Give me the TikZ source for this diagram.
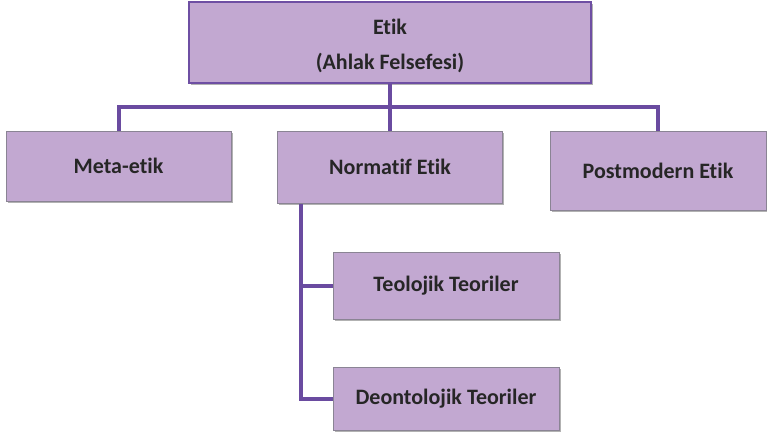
\documentclass[tikz,border=0pt]{standalone}
\usepackage{fontspec}
\setmainfont{Carlito}[Ligatures=NoCommon]
\usetikzlibrary{shadows}

\definecolor{boxfill}{HTML}{C2A8D1}
\definecolor{boxedge}{HTML}{8A8494}
\definecolor{topedge}{HTML}{6E4FA3}
\definecolor{linkpurple}{HTML}{6A4BA0}
\definecolor{textgrey}{HTML}{262626}

\tikzset{
  box/.style={draw=boxedge, line width=1pt, fill=boxfill, text=textgrey,
    font=\fontsize{22}{26}\selectfont\bfseries, inner sep=0pt,
    drop shadow={shadow xshift=1.5pt, shadow yshift=-2pt, fill=black, opacity=.3}},
  link/.style={draw=linkpurple, line width=4pt},
}

\begin{document}
\begin{tikzpicture}[x=1pt, y=-1pt]
        \useasboundingbox (0,0) rectangle (767,437);

        % top box
        \node[box, draw=topedge, line width=1.5pt, align=center,
              font=\fontsize{22}{35}\selectfont\bfseries,
              minimum width=402pt, minimum height=81pt] (etik) at (390, 42.5)
              {\rule{0pt}{22.5pt}Etik\\(Ahlak Felsefesi)};

        % second row
        \node[box, minimum width=225pt, minimum height=70pt] (meta) at (118.5, 166) {Meta-etik};
        \node[box, minimum width=225pt, minimum height=72pt] (norm) at (390, 167) {Normatif Etik};
        \node[box, minimum width=216pt, minimum height=79pt] (post) at (658, 170.5) {Postmodern Etik};

        % under Normatif Etik
        \node[box, minimum width=226pt, minimum height=67pt] (teo) at (446, 285.5) {Teolojik Teoriler};
        \node[box, minimum width=226pt, minimum height=63pt] (deo) at (446, 398.5) {Deontolojik Teoriler};

        \coordinate (bus) at (390, 107);
        \coordinate (spine) at (301, 0);

        \draw[link] (etik.south) -- (norm.north);
        \draw[link] (meta.north) |- (bus) -| (post.north);

        \draw[link] (norm.south -| spine) |- (deo.west);
        \draw[link] (spine |- teo.west) -- (teo.west);

\end{tikzpicture}
\end{document}
